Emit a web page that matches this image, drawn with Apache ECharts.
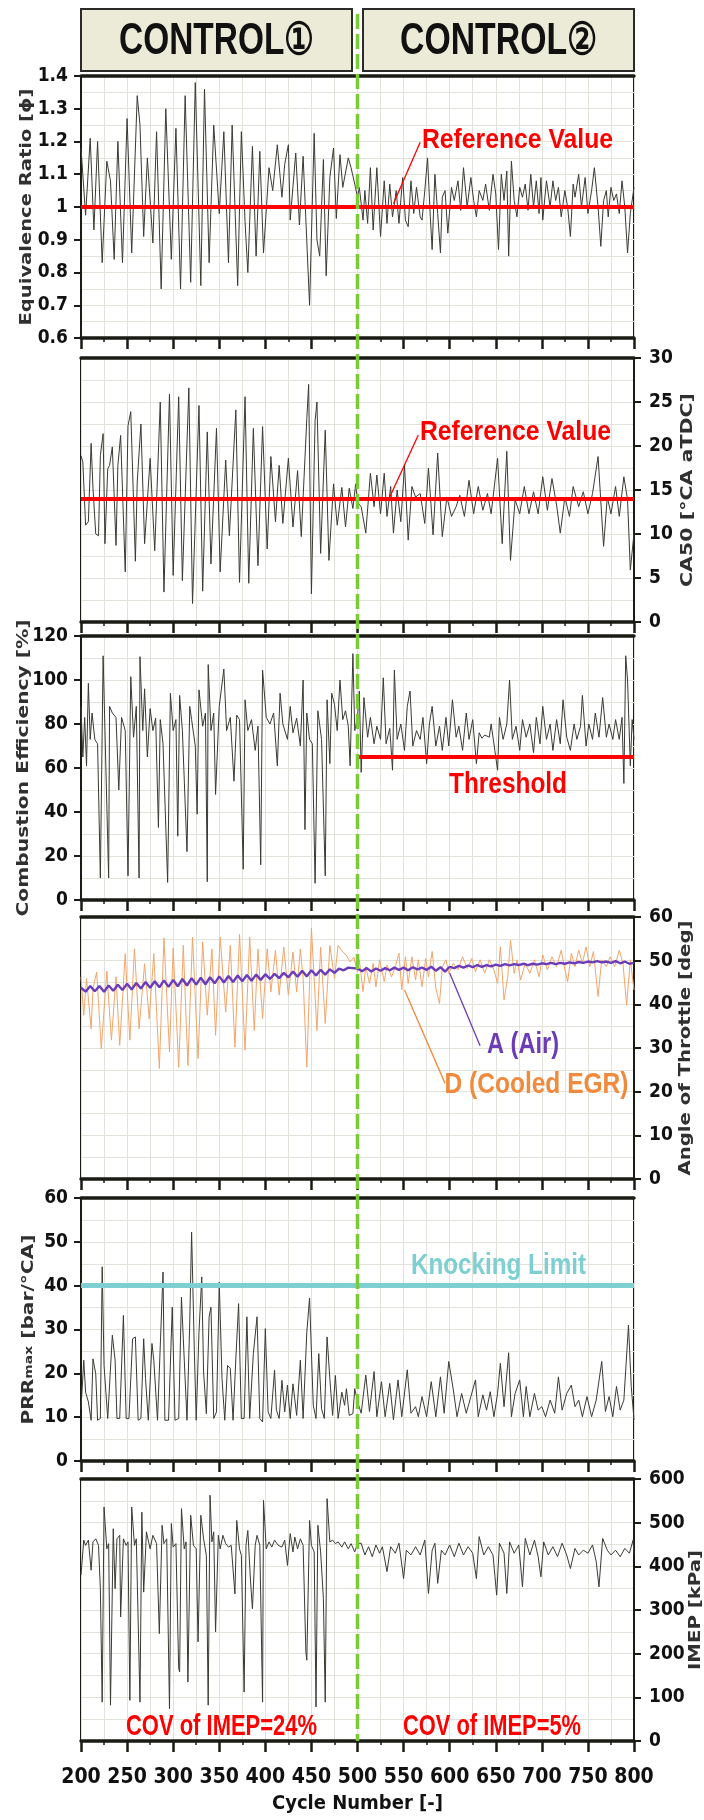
<!DOCTYPE html>
<html><head><meta charset="utf-8">
<script src="https://cdn.jsdelivr.net/npm/echarts@6/dist/echarts.min.js"></script>
<style>html,body{margin:0;padding:0;background:#fff}#c{width:704px;height:1820px}</style>
</head><body><div id="c"></div>
<script>
// ---------------- DATA ----------------
const cycleMin = 200, cycleMax = 800, cycleStep = 50;
const controlSwitchCycle = 500;
const headerLabels = ['CONTROL①', 'CONTROL②'];

const phiRef = 1.0, ca50Ref = 14, effThreshold = 65, knockLimit = 40;

const phi = [[200,1.18],[205,0.975],[210,1.21],[214,0.93],[218,1.20],[223,0.83],[225,0.83],[228,1.14],[232,1.08],[236,0.84],[240,1.20],[245,0.83],[250,1.27],[255,0.86],[261,1.34],[264,1.25],[268,0.91],[272,1.15],[278,0.89],[282,1.23],[287,0.75],[292,1.30],[298,0.84],[303,1.24],[308,0.75],[313,1.34],[319,0.77],[324,1.38],[330,0.76],[334,1.36],[339,0.83],[344,1.25],[350,0.98],[355,1.23],[360,0.83],[364,1.25],[370,0.76],[374,1.23],[378,0.955],[381,0.80],[386,1.185],[390,0.85],[394,1.17],[398,0.86],[404,1.12],[408,1.05],[413,1.19],[418,1.03],[421,1.13],[425,1.19],[427,0.96],[433,1.165],[437,0.945],[441,1.155],[448,0.70],[453,1.225],[456,0.90],[459,0.85],[463,1.145],[466,0.79],[470,1.09],[474,1.18],[477,0.965],[481,1.16],[484,1.06],[490,1.15],[493,1.12],[497,1.07],[500,1.03],
[502,1.06],[506,0.96],[508,1.05],[511,0.95],[514,1.12],[517,0.93],[521,1.12],[525,0.91],[529,1.08],[532,0.95],[535,1.07],[538,0.97],[542,1.05],[545,0.95],[549,1.09],[552,0.96],[555,0.94],[558,1.08],[561,0.98],[564,1.06],[568,0.97],[570,0.96],[573,1.05],[576,1.15],[579,0.97],[581,0.87],[584,1.10],[587,0.98],[590,0.86],[592,1.03],[595,1.05],[598,0.92],[602,1.06],[605,1.02],[609,1.08],[612,0.99],[615,1.12],[619,1.00],[623,1.09],[626,1.02],[629,0.97],[632,1.05],[636,1.02],[639,1.07],[643,0.99],[647,1.10],[650,1.04],[653,0.87],[656,1.10],[659,1.02],[662,1.11],[664,0.85],[667,1.14],[670,1.02],[673,0.97],[676,1.06],[679,1.03],[682,1.07],[685,0.99],[688,1.10],[691,1.00],[694,1.08],[697,0.98],[699,1.09],[701,0.96],[705,1.08],[709,1.00],[712,1.08],[715,1.02],[718,1.06],[721,0.97],[725,1.05],[728,1.00],[731,0.91],[734,1.07],[736,1.03],[740,1.10],[743,1.00],[747,1.09],[750,0.98],[754,1.05],[757,1.12],[761,1.00],[764,0.88],[767,1.02],[770,1.05],[772,0.97],[775,1.06],[778,1.02],[781,1.04],[784,0.98],[787,1.08],[790,1.00],[793,0.86],[796,0.98],[800,1.06]];

const ca50 = [[200,18.9],[202,18.2],[205,11.0],[208,11.4],[211,20.3],[213,15.2],[216,10.0],[219,9.8],[221,18.9],[224,21.4],[226,8.9],[229,17.4],[231,17.8],[234,19.9],[238,8.7],[240,17.8],[243,21.2],[248,5.7],[251,22.3],[254,23.9],[259,6.9],[261,15.9],[265,22.5],[269,8.9],[275,18.6],[280,8.1],[286,25.0],[290,3.4],[296,25.9],[300,5.3],[306,25.6],[310,4.7],[317,26.6],[321,2.1],[328,24.6],[332,3.5],[337,21.6],[341,6.6],[347,22.0],[351,5.7],[357,18.4],[361,9.8],[368,24.1],[372,4.5],[378,25.6],[382,4.4],[387,22.0],[392,6.4],[397,22.2],[402,8.3],[406,18.8],[411,11.4],[415,17.8],[419,11.2],[425,18.6],[430,10.8],[435,17.2],[439,9.7],[445,23.1],[447,27.0],[450,3.2],[454,22.9],[456,25.0],[460,7.8],[465,21.8],[469,7.0],[474,15.7],[478,11.0],[483,15.3],[487,10.8],[491,15.2],[495,12.9],[498,15.7],[500,13.6],
[504,13.1],[509,10.1],[514,16.9],[518,13.1],[521,16.7],[525,12.3],[529,16.9],[532,12.0],[536,15.4],[539,10.1],[543,15.0],[547,11.4],[551,17.8],[555,9.3],[559,15.4],[563,14.2],[568,14.6],[573,11.2],[577,17.5],[582,9.9],[587,19.2],[592,9.7],[597,14.2],[602,12.0],[607,13.1],[611,14.4],[616,12.0],[621,16.1],[626,12.3],[631,15.4],[636,12.7],[641,14.6],[645,12.3],[652,18.6],[657,8.9],[662,19.4],[666,7.0],[671,13.9],[676,12.3],[681,15.4],[686,12.3],[691,14.8],[696,12.3],[701,16.5],[706,12.7],[711,16.3],[716,13.3],[720,10.1],[725,14.2],[730,12.0],[734,15.4],[740,13.1],[745,14.8],[750,12.3],[755,14.6],[761,18.8],[767,8.6],[771,14.2],[775,12.3],[780,15.4],[784,12.0],[789,16.5],[793,13.9],[796,5.9],[800,10.1]];

const efficiency = [[200,88],[202,65],[204,83],[206,61],[208,98.5],[210,73],[212,85],[215,73],[218,71],[221,10],[224,111],[226,77],[230,10],[231,88],[234,85],[238,83],[241,50],[244,83],[248,77],[251,11],[254,101.5],[257,74],[260,88],[263,10],[264,110.6],[267,77],[269,96],[272,65],[275,87],[278,77],[281,82.6],[284,33],[286,82],[289,71],[294,8],[297,94],[300,77],[303,82],[305,29],[307,93],[310,77],[315,22],[318,88],[320,82],[324,70],[326,39],[328,95.5],[332,79],[335,85],[337,8.3],[338,107],[341,77],[344,85],[346,48],[350,88],[355,105],[358,77],[362,83],[366,54],[369,84],[372,82],[376,14],[378,91],[381,77],[385,82],[389,68],[392,79],[395,16],[397,104.5],[401,83],[405,80],[409,85],[413,61],[416,94],[419,80],[424,73],[427,88],[430,76],[434,82.6],[438,70],[441,100],[443,32],[445,85],[448,73],[451,71],[454,7.6],[457,86],[461,73],[465,11],[467,91],[470,62],[472,94],[475,89],[478,77],[481,100],[484,82],[487,86],[490,79],[492,61],[495,112],[497,77],[500,83],
[502,95],[504,58],[507,92],[511,74],[514,83],[518,71],[521,79],[525,73],[528,101],[531,71],[535,78],[538,59],[540,104.5],[543,73],[547,80],[551,68],[554,88],[557,95],[560,70],[564,77],[568,73],[571,83],[575,62],[578,80],[581,88],[585,70],[589,79],[592,68],[596,83],[599,70],[603,91],[607,74],[610,79],[614,68],[618,85],[621,73],[625,82],[629,62],[632,76],[635,73.5],[638,75],[643,74],[645,80],[649,68],[652,59],[654,83],[658,73],[662,80],[665,100],[668,73],[672,79],[676,68],[679,82],[683,74],[687,80],[691,67],[694,83],[698,71],[701,88],[705,73],[709,80],[712,68],[716,82],[720,71],[723,91],[727,74],[731,68],[735,80],[738,73],[742,79],[744,93],[748,70],[751,80],[755,73],[758,85],[762,74],[766,92],[770,74],[773,80],[777,73],[780,82],[784,73],[787,83],[789,53],[791,111],[793,100],[796,61],[798,82],[800,73]];

const throttleAir = [[200,43.8],[205,42.9],[210,44.2],[215,43.0],[220,44.2],[225,42.9],[230,44.3],[235,43.1],[240,44.5],[245,43.3],[250,44.7],[255,43.4],[260,44.9],[265,43.6],[270,45.1],[275,43.8],[280,45.3],[285,43.9],[290,45.5],[295,44.0],[300,45.6],[305,44.1],[310,45.8],[315,44.3],[320,46.0],[325,44.5],[330,46.1],[335,44.6],[340,46.2],[345,44.8],[350,46.4],[355,45.0],[360,46.5],[365,45.1],[370,46.6],[375,45.3],[380,46.7],[385,45.4],[390,46.8],[395,45.6],[400,46.9],[405,45.8],[410,47.0],[415,46.0],[420,47.2],[425,46.2],[430,47.5],[435,46.3],[440,47.7],[445,46.4],[450,47.8],[455,46.6],[460,47.9],[465,46.8],[470,48.0],[475,47.2],[480,48.2],[485,47.8],[490,48.4],[495,48.3],[500,48.2],
[505,47.6],[510,48.3],[515,47.5],[520,48.2],[525,47.7],[530,48.3],[535,47.8],[540,48.4],[545,47.9],[550,48.4],[555,47.8],[560,48.5],[565,48.0],[570,48.4],[575,47.9],[580,48.6],[585,47.7],[590,48.5],[595,47.5],[600,48.6],[605,48.3],[610,48.8],[615,48.4],[620,48.9],[625,48.5],[630,49.0],[635,48.6],[640,49.0],[645,48.7],[650,49.1],[655,48.8],[660,49.2],[665,48.9],[670,49.2],[675,49.0],[680,49.3],[685,49.0],[690,49.3],[695,49.1],[700,49.4],[705,49.2],[710,49.5],[715,49.2],[720,49.5],[725,49.3],[730,49.6],[735,49.4],[740,49.7],[745,49.5],[750,49.8],[755,49.6],[760,49.9],[765,49.6],[770,49.8],[775,49.5],[780,49.9],[785,49.4],[790,49.8],[795,49.3],[800,49.5]];

const throttleEgr = [[200,46.3],[203,37.5],[206,45.9],[211,34.4],[213,43.6],[217,47.4],[222,29.8],[228,47.6],[233,31.8],[238,46.3],[242,30.6],[248,51.6],[253,31.8],[258,52.7],[263,34.4],[269,49.3],[274,36.7],[279,51.6],[285,25.3],[290,55.2],[296,29.1],[300,52.9],[306,25.6],[311,53.5],[316,26.0],[321,55.4],[327,27.6],[332,54.3],[337,37.5],[342,52.7],[346,32.9],[351,55.4],[357,38.2],[362,53.5],[367,30.2],[372,56.0],[378,29.5],[383,55.4],[388,34.0],[392,52.7],[397,36.7],[402,52.7],[406,42.8],[411,52.4],[415,42.1],[420,53.1],[425,42.1],[430,52.0],[434,42.8],[438,52.7],[441,45.9],[445,25.6],[450,57.5],[456,34.0],[460,53.1],[465,35.6],[470,53.5],[475,45.9],[479,53.5],[484,52.0],[488,51.2],[492,49.7],[496,50.8],[500,47.4],
[502,50.2],[506,42.9],[509,48.6],[513,44.8],[517,49.4],[520,44.0],[524,50.2],[529,45.2],[532,49.0],[537,46.3],[541,48.6],[545,51.7],[548,43.3],[552,50.9],[555,44.8],[559,50.9],[563,45.6],[566,50.2],[570,44.0],[574,50.5],[577,46.3],[581,52.1],[585,43.7],[589,40.2],[592,48.6],[596,50.2],[599,47.1],[604,49.4],[609,47.9],[614,50.9],[619,48.2],[624,50.5],[628,47.5],[633,50.2],[638,47.1],[643,50.2],[648,47.9],[652,44.8],[655,53.2],[659,41.0],[663,46.3],[666,54.7],[670,47.1],[673,50.2],[677,45.6],[682,49.4],[687,47.1],[692,50.2],[697,46.3],[701,51.3],[706,47.9],[711,50.9],[716,48.6],[721,52.4],[725,47.9],[728,45.2],[732,51.7],[736,48.6],[740,52.4],[744,49.4],[748,53.2],[752,48.6],[756,52.1],[761,41.8],[765,50.2],[770,48.6],[774,50.9],[779,48.6],[784,52.4],[788,49.4],[792,39.8],[796,50.2],[800,43.3]];

const prrMax = [[200,11.9],[203,23.0],[205,15.7],[208,13.5],[211,9.3],[213,23.3],[216,19.9],[218,9.3],[221,9.7],[223,44.3],[225,21.8],[229,9.7],[231,9.7],[234,28.7],[237,23.0],[239,9.7],[242,9.7],[246,33.2],[249,9.7],[252,9.7],[256,27.9],[259,28.3],[262,9.3],[265,9.7],[268,27.9],[270,18.8],[273,9.3],[277,26.8],[279,23.0],[283,9.3],[289,43.1],[291,9.3],[295,9.3],[299,35.1],[302,9.3],[306,9.7],[309,37.4],[311,27.9],[315,9.3],[318,31.7],[320,52.2],[323,24.9],[325,9.3],[328,29.4],[331,42.0],[333,20.3],[336,10.8],[339,32.9],[341,35.1],[344,9.7],[347,11.2],[350,40.8],[353,18.8],[356,9.3],[359,21.8],[362,21.1],[365,9.3],[368,23.3],[371,35.9],[374,9.7],[377,9.7],[380,32.9],[383,9.7],[387,24.5],[391,32.9],[394,9.7],[397,8.9],[400,30.2],[403,11.2],[406,9.7],[410,20.7],[412,11.6],[415,9.7],[418,18.4],[421,11.2],[424,17.3],[427,9.7],[430,17.6],[434,10.4],[438,23.0],[441,9.7],[445,29.4],[448,37.2],[452,12.7],[455,9.7],[458,24.5],[461,11.9],[464,9.7],[467,28.3],[470,18.8],[473,10.4],[476,19.5],[479,9.7],[483,15.7],[486,12.7],[488,16.5],[491,10.4],[495,10.8],[497,16.5],[500,13.5],
[504,10.9],[509,19.6],[513,11.3],[518,20.4],[521,10.1],[526,18.1],[530,10.1],[535,17.7],[539,9.4],[544,18.5],[548,10.1],[554,20.8],[558,10.9],[563,12.4],[566,10.1],[570,14.7],[575,10.1],[580,18.1],[585,10.1],[590,19.2],[594,10.9],[599,22.7],[604,16.2],[608,10.1],[613,15.4],[618,10.9],[623,14.7],[628,18.5],[631,10.1],[636,15.1],[640,11.6],[644,15.8],[648,10.1],[652,15.4],[655,22.3],[659,12.4],[664,24.7],[667,10.1],[671,15.4],[676,18.5],[680,10.1],[683,17.0],[687,10.1],[692,15.4],[696,11.6],[700,12.4],[704,10.1],[709,13.9],[714,10.9],[718,19.2],[722,11.6],[727,15.4],[732,17.3],[736,12.4],[740,13.9],[744,10.1],[749,14.7],[754,10.1],[759,13.9],[765,22.7],[769,11.3],[773,14.7],[777,10.1],[781,17.0],[785,11.6],[789,13.9],[794,31.0],[797,17.0],[800,9.4]];

const imep = [[200,380],[203,460],[205,448],[208,460],[211,391],[213,456],[216,463],[219,448],[221,349],[223,89],[225,536],[228,440],[230,452],[232,82],[235,486],[237,349],[239,463],[242,471],[243,284],[246,463],[249,448],[251,456],[253,93],[255,536],[258,448],[260,463],[264,89],[266,524],[268,341],[271,479],[275,440],[278,471],[282,452],[285,246],[288,494],[290,452],[293,463],[296,74],[298,498],[300,444],[303,452],[306,166],[307,158],[309,532],[312,440],[314,456],[316,135],[319,517],[322,448],[325,440],[327,227],[330,517],[333,463],[336,425],[338,82],[340,563],[342,456],[344,479],[346,250],[349,471],[351,440],[354,471],[357,452],[360,444],[363,448],[367,337],[369,505],[372,440],[374,425],[377,112],[379,448],[381,482],[384,364],[386,303],[389,448],[391,471],[394,448],[397,89],[398,551],[401,440],[404,456],[407,444],[410,460],[414,448],[418,444],[421,460],[424,402],[427,475],[430,433],[432,467],[435,440],[438,463],[441,448],[444,204],[445,185],[448,505],[450,448],[453,433],[455,78],[457,494],[460,433],[463,326],[465,89],[467,555],[470,456],[473,460],[476,452],[479,456],[483,444],[486,456],[490,440],[493,452],[497,433],[500,452],
[504,453],[508,426],[512,445],[516,422],[520,449],[524,430],[527,445],[532,388],[536,445],[541,430],[545,453],[550,372],[553,437],[558,426],[563,445],[568,426],[573,460],[577,338],[581,437],[584,453],[587,361],[591,437],[595,426],[600,449],[605,422],[610,453],[615,426],[620,445],[625,430],[629,372],[632,468],[637,426],[642,445],[647,426],[651,334],[654,453],[659,430],[662,338],[665,456],[670,430],[675,449],[679,353],[682,464],[687,426],[692,460],[696,422],[699,376],[702,456],[707,426],[712,445],[717,422],[722,453],[727,426],[731,395],[736,441],[740,426],[745,437],[750,430],[755,449],[759,411],[762,353],[766,464],[771,437],[775,426],[780,437],[785,422],[790,441],[795,430],[799,460],[800,426]];

// annotation leader lines in data units [from, to]
const leaderPhi = [[568,1.198],[539,1.01]];
const leaderCa50 = [[566,21.25],[535,14.2]];
const leaderAir = [[600,47.2],[633,30.5]];
const leaderEgr = [[551,43.3],[595,21.9]];

// ---------------- STYLE / LAYOUT ----------------
const INK = '#1b1b14';
const GRIDC = '#e2e2da';
const LINEC = '#3a3a33';
const RED = '#ff0000';
const GREEN = '#7acc36';
const CYAN = '#7dcfd1';
const PURPLE = '#6c3cb8';
const ORANGE = '#f08a3c';
const NAMEC = '#303030';
const FONT_N = "'Liberation Sans Narrow','Arial Narrow','DejaVu Sans Condensed','Liberation Sans',sans-serif";
const FONT_W = '"DejaVu Sans", Verdana, sans-serif';

const LEFT = 81, WIDTH = 553;
const panels = [
  {top:76,  h:262, side:'left',  min:0.6, max:1.4, interval:0.1, name:'Equivalence Ratio [ϕ]', ncx:27, nlen:237},
  {top:358, h:264, side:'right', min:0, max:30, interval:5, name:'CA50 [°CA aTDC]', ncx:688, nlen:194},
  {top:636, h:264, side:'left',  min:0, max:120, interval:20, name:'Combustion Efficiency [%]', ncx:24, nlen:297},
  {top:917, h:262, side:'right', min:0, max:60, interval:10, name:'Angle of Throttle [deg]', ncx:686, nlen:255},
  {top:1198,h:263, side:'left',  min:0, max:60, interval:10, name:'PRR', sub:'max', tail:' [bar/°CA]', ncx:29, nlen:190},
  {top:1479,h:262, side:'right', min:0, max:600, interval:100, name:'IMEP [kPa]', ncx:696, nlen:120}
];

const grid = panels.map(p => ({left:LEFT, top:p.top, width:WIDTH, height:p.h, show:true,
  borderColor:INK, borderWidth:2, backgroundColor:'#fff', containLabel:false}));

const xAxis = [];
panels.forEach((p,i) => xAxis.push({
  gridIndex:i, type:'value', min:cycleMin, max:cycleMax, interval:cycleStep, position:'bottom',
  axisLine:{show:true, onZero:false, lineStyle:{color:INK, width:3.5}},
  axisTick:{show:true, inside:false, length:11, lineStyle:{color:INK, width:2.5}},
  minorTick:{show:true, splitNumber:2, length:4, lineStyle:{color:INK, width:1.5}},
  splitLine:{show:true, lineStyle:{color:GRIDC, width:1}},
  minorSplitLine:{show:true, lineStyle:{color:GRIDC, width:1}},
  axisLabel:{show:i===5, margin:26, color:'#111', fontFamily:FONT_N, fontWeight:'bold', fontSize:21},
  name: i===5 ? 'Cycle Number [-]' : '', nameLocation:'middle', nameGap:53,
  nameTextStyle:{color:'#111', fontFamily:FONT_N, fontWeight:'bold', fontSize:20}
}));
panels.forEach((p,i) => xAxis.push({
  gridIndex:i, type:'value', min:cycleMin, max:cycleMax, position:'top',
  axisLine:{show:true, onZero:false, lineStyle:{color:INK, width:3.5}},
  axisTick:{show:false}, axisLabel:{show:false}, splitLine:{show:false}
}));

const yAxis = panels.map((p,i) => ({
  gridIndex:i, type:'value', min:p.min, max:p.max, interval:p.interval, position:p.side,
  axisLine:{show:true, onZero:false, lineStyle:{color:INK, width:2}},
  axisTick:{show:true, inside:false, length:7, lineStyle:{color:INK, width:2}},
  minorTick:{show:false, splitNumber:2},
  splitLine:{show:true, lineStyle:{color:GRIDC, width:1}},
  minorSplitLine:{show:true, lineStyle:{color:GRIDC, width:1}},
  axisLabel:{margin: p.side==='right' ? 15 : 13, color:'#111', fontFamily:FONT_N, fontWeight:'bold', fontSize:19}
}));

function dataLine(i, data, color, width, z) {
  return {type:'line', xAxisIndex:i, yAxisIndex:i, data:data, showSymbol:false, symbol:'none',
    lineStyle:{color:color, width:width}, z:z||3, silent:true, animation:false};
}
function leader(i, data, color) {
  return {type:'line', xAxisIndex:i, yAxisIndex:i, data:data, showSymbol:false, symbol:'none',
    lineStyle:{color:color, width:1.3}, z:6, silent:true};
}
const refLine = (val, color, width) => ({silent:true, symbol:'none', label:{show:false},
  lineStyle:{color:color, width:width, type:'solid'}, data:[{yAxis:val}]});

const series = [];
const s1 = dataLine(0, phi, LINEC, 1); s1.markLine = refLine(phiRef, RED, 4); series.push(s1);
const s2 = dataLine(1, ca50, LINEC, 1); s2.markLine = refLine(ca50Ref, RED, 4); series.push(s2);
const s3 = dataLine(2, efficiency, LINEC, 1);
s3.markLine = {silent:true, symbol:'none', label:{show:false}, lineStyle:{color:RED, width:4, type:'solid'},
  data:[[{coord:[controlSwitchCycle, effThreshold]},{coord:[cycleMax, effThreshold]}]]};
series.push(s3);
series.push(dataLine(3, throttleEgr, '#f3a56a', 1, 3));
series.push(dataLine(3, throttleAir, PURPLE, 2.4, 4));
const s5 = dataLine(4, prrMax, LINEC, 1); s5.markLine = refLine(knockLimit, CYAN, 5); series.push(s5);
series.push(dataLine(5, imep, LINEC, 1));
series.push(leader(0, leaderPhi, RED));
series.push(leader(1, leaderCa50, RED));
series.push(leader(3, leaderAir, PURPLE));
series.push(leader(3, leaderEgr, ORANGE));

const chart = echarts.init(document.getElementById('c'), null, {renderer:'canvas', width:704, height:1820});
chart.setOption({animation:false, backgroundColor:'#fff', grid, xAxis, yAxis, series});

// ---------------- ANNOTATIONS ----------------
const mctx = document.createElement('canvas').getContext('2d');
function measure(text, font) { mctx.font = font; return mctx.measureText(text).width; }
function label(text, x, cy, targetW, size, color, align) {
  const font = 'bold ' + size + 'px "Liberation Sans", Arial, sans-serif';
  const w = measure(text, font);
  return {type:'text', x:x, y:cy, scaleX: targetW / w, z:120, silent:true,
    style:{text:text, font:font, fill:color, align:align||'left', verticalAlign:'middle'}};
}
// rotated axis titles (bottom-to-top), stretched to the reference length
function axisTitle(p) {
  const size = 16, small = 11;
  const font = 'bold ' + size + 'px ' + FONT_W, sfont = 'bold ' + small + 'px ' + FONT_W;
  const cy = p.top + p.h / 2;
  let w, style;
  if (p.sub) {
    w = measure(p.name, font) + measure(p.sub, sfont) + measure(p.tail, font);
    style = {text:'{a|' + p.name + '}{s|' + p.sub + '}{a|' + p.tail + '}', align:'center', verticalAlign:'middle',
      rich:{a:{font:font, fill:NAMEC, height:22, verticalAlign:'middle'}, s:{font:sfont, fill:NAMEC, height:22, verticalAlign:'bottom'}}};
  } else {
    w = measure(p.name, font);
    style = {text:p.name, font:font, fill:NAMEC, align:'center', verticalAlign:'middle'};
  }
  return {type:'text', x:p.ncx, y:cy, rotation:Math.PI/2, scaleX:p.nlen / w, z:120, silent:true, style:style};
}
const xSwitch = chart.convertToPixel({xAxisIndex:0}, controlSwitchCycle);
const graphic = [
  {type:'rect', shape:{x:81, y:9, width:271, height:62}, style:{fill:'#ebebd8', stroke:'#2a2a2a', lineWidth:2}, z:100, silent:true},
  {type:'rect', shape:{x:363, y:9, width:271, height:62}, style:{fill:'#ebebd8', stroke:'#2a2a2a', lineWidth:2}, z:100, silent:true},
  label(headerLabels[0], 216.5, 42, 195, 44, '#111', 'center'),
  label(headerLabels[1], 498.5, 42, 197, 44, '#111', 'center'),
  label('Reference Value', 422, 140, 191, 28, RED),
  label('Reference Value', 420, 432, 191, 28, RED),
  label('Threshold', 449, 785, 118, 30, RED),
  label('A (Air)', 487, 1045, 72, 29, PURPLE),
  label('D (Cooled EGR)', 444.5, 1085, 184, 30, ORANGE),
  label('Knocking Limit', 411, 1266, 175, 30, CYAN),
  label('COV of IMEP=24%', 126, 1727, 191, 30, RED),
  label('COV of IMEP=5%', 403, 1727, 178, 30, RED),
  {type:'line', shape:{x1:xSwitch, y1:14, x2:xSwitch, y2:1741}, z:110, silent:true,
    style:{stroke:GREEN, lineWidth:3.5, lineDash:[15,5]}}
].concat(panels.map(axisTitle));
chart.setOption({graphic});
</script></body></html>
